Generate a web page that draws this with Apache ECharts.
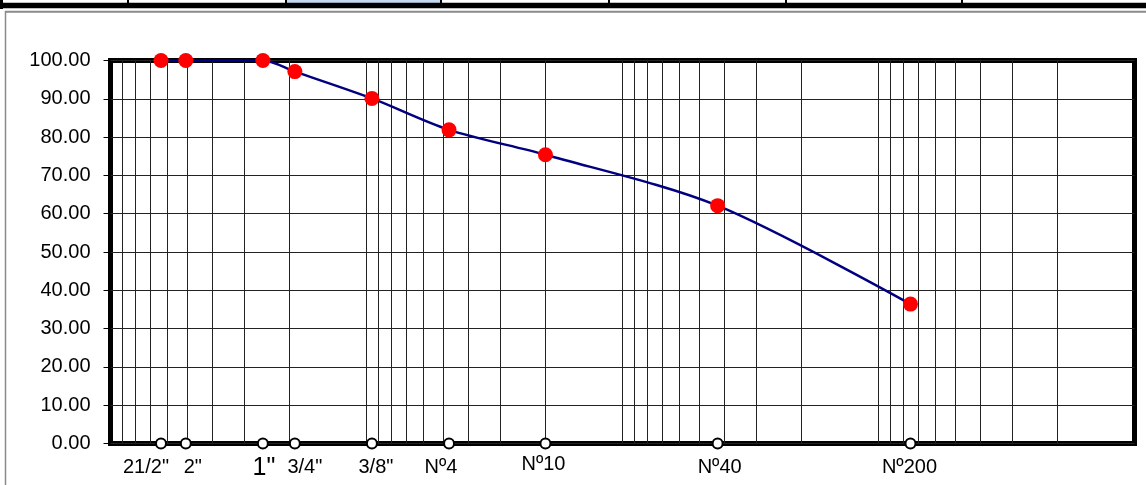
<!DOCTYPE html>
<html><head><meta charset="utf-8">
<script src="https://cdn.jsdelivr.net/npm/echarts@6/dist/echarts.min.js"></script>
<style>html,body{margin:0;padding:0;background:#fff}#c{width:1146px;height:485px}</style>
</head><body><div id="c"></div>
<script>
// ---- data ----
const sieveLabels = ['21/2"', '2"', '1"', '3/4"', '3/8"', 'Nº4', 'Nº10', 'Nº40', 'Nº200'];
const sieveSizesMm = [63.5, 50.8, 25.4, 19.05, 9.525, 4.76, 2.0, 0.425, 0.075];
const percentPassing = [100, 100, 100, 97.1, 90.1, 81.9, 75.4, 62.1, 36.4];
const yMin = 0, yMax = 100, yStep = 10;
const xMinMm = 0.01, xMaxMm = 100;
const verticalGridMm = [90, 80, 70, 60, 50, 40, 30, 20, 10,
  9, 8, 7, 6, 5, 4, 3, 2, 1,
  0.9, 0.8, 0.7, 0.6, 0.5, 0.4, 0.3, 0.2, 0.1,
  0.09, 0.08, 0.07, 0.06, 0.05, 0.04, 0.03, 0.02];

// ---- layout / style ----
const FONT = 'Liberation Sans, Arial, sans-serif';
const labelNudge = [[-15, 1], [7, 1], [1, -1], [10, 1], [4, 1], [-8, 1], [-2, -2], [2, 1], [-1, 1]];
const labelSize = [20, 20, 25, 20, 20, 20, 20, 20, 20];

const chart = echarts.init(document.getElementById('c'), null, {renderer: 'canvas'});

const curveData = sieveSizesMm.map((s, i) => [s, percentPassing[i]]);
const sieveMarks = sieveSizesMm.map((s, i) => ({
  value: [s, yMin],
  label: {
    show: true,
    formatter: sieveLabels[i],
    fontSize: labelSize[i],
    offset: labelNudge[i],
    color: '#000',
    fontFamily: FONT
  }
}));

chart.setOption({
  animation: false,
  backgroundColor: '#fff',
  grid: {
    left: 110.5, right: 11.5, top: 60.5, bottom: 41.5,
    show: true, borderColor: '#000', borderWidth: 5, backgroundColor: 'transparent'
  },
  xAxis: {
    type: 'log', logBase: 10, min: xMinMm, max: xMaxMm, inverse: true,
    axisLine: {show: false}, axisTick: {show: false}, axisLabel: {show: false},
    splitLine: {show: false}
  },
  yAxis: {
    type: 'value', min: yMin, max: yMax, interval: yStep,
    axisLine: {show: false},
    axisTick: {show: true, length: 7, lineStyle: {color: '#000', width: 1}},
    axisLabel: {
      color: '#000', fontSize: 20, fontFamily: FONT, margin: 20,
      formatter: v => v.toFixed(2)
    },
    splitLine: {show: true, lineStyle: {color: '#222', width: 1}}
  },
  graphic: [
    {type: 'rect', shape: {x: 0, y: 0, width: 1146, height: 3}, style: {fill: '#fff'}, silent: true},
    {type: 'rect', shape: {x: 287, y: 0, width: 154, height: 3}, style: {fill: '#c5d9f1'}, silent: true},
    {type: 'rect', shape: {x: 0, y: 2.7, width: 1146, height: 5.6}, style: {fill: '#000'}, silent: true},
    {type: 'rect', shape: {x: 0, y: 0, width: 3, height: 9}, style: {fill: '#000'}, silent: true},
    ...[128, 286, 441, 609, 786, 962].map(x => ({
      type: 'rect', shape: {x: x - 1, y: 0, width: 2, height: 3}, style: {fill: '#000'}, silent: true
    })),
    {type: 'line', shape: {x1: 5, y1: 11.7, x2: 1146, y2: 11.7}, style: {stroke: '#8a8a8a', lineWidth: 2}, silent: true},
    {type: 'line', shape: {x1: 5.5, y1: 11, x2: 5.5, y2: 485}, style: {stroke: '#8a8a8a', lineWidth: 1.5}, silent: true}
  ],
  series: [
    {
      type: 'line',
      name: 'grid',
      data: [],
      silent: true,
      markLine: {
        silent: true, symbol: 'none', animation: false,
        label: {show: false},
        lineStyle: {color: '#222', width: 1, type: 'solid'},
        data: verticalGridMm.map(v => ({xAxis: v}))
      }
    },
    {
      type: 'line',
      name: 'curve',
      data: curveData,
      smooth: 0.3,
      lineStyle: {color: '#000080', width: 2.5},
      symbol: 'circle',
      symbolSize: 15,
      itemStyle: {color: '#ff0000', borderWidth: 0, opacity: 1},
      z: 5
    },
    {
      type: 'scatter',
      name: 'sieves',
      data: sieveMarks,
      symbol: 'circle',
      symbolSize: 10,
      itemStyle: {color: '#fff', borderColor: '#000', borderWidth: 2, opacity: 1},
      label: {
        position: 'bottom', distance: 7, color: '#000', fontFamily: FONT
      },
      z: 6
    }
  ]
});
</script>
</body></html>
